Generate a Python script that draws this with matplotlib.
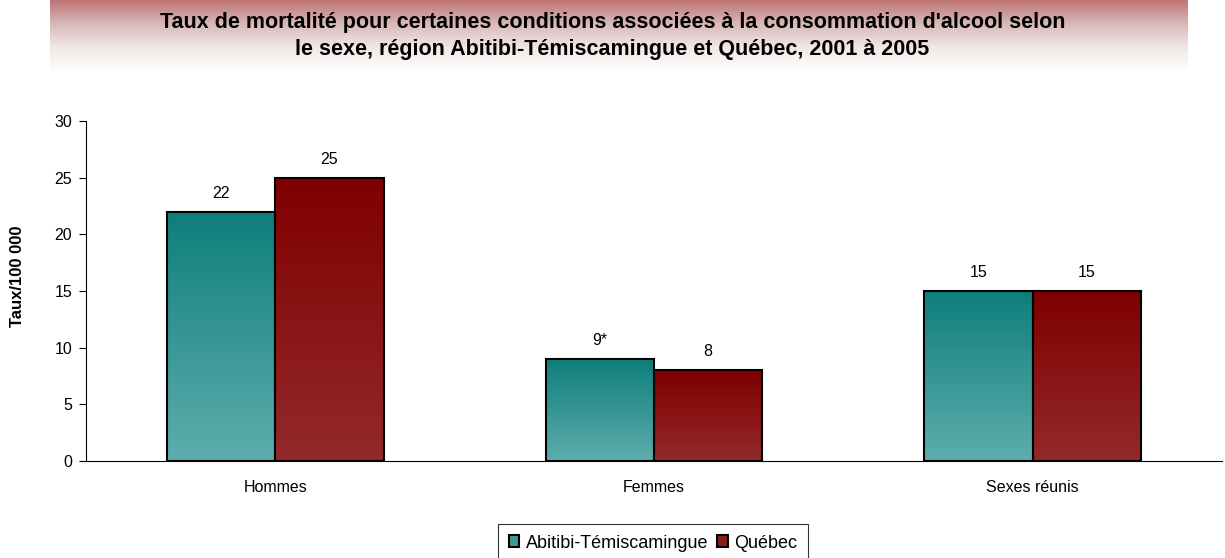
import matplotlib.pyplot as plt
import numpy as np
from matplotlib.colors import LinearSegmentedColormap
from matplotlib.patches import Patch

plt.rcParams['font.family'] = ['Liberation Sans', 'DejaVu Sans']

categories = ['Hommes', 'Femmes', 'Sexes réunis']
series_names = ['Abitibi-Témiscamingue', 'Québec']
abitibi = [22, 9, 15]
quebec = [25, 8, 15]
abitibi_labels = ['22', '9*', '15']
quebec_labels = ['25', '8', '15']

title = ("Taux de mortalité pour certaines conditions associées à la consommation d'alcool selon\n"
         "le sexe, région Abitibi-Témiscamingue et Québec, 2001 à 2005")

teal_cmap = LinearSegmentedColormap.from_list('teal', ['#5eadad', '#0e7f7c'])
red_cmap = LinearSegmentedColormap.from_list('red', ['#93292a', '#800000'])

fig = plt.figure(figsize=(12.25, 5.58), dpi=100)

# title band with vertical gradient
band = fig.add_axes([50 / 1225, 1 - 72 / 558, 1138 / 1225, 72 / 558])
grad = np.linspace(0, 1, 100).reshape(-1, 1)
band_cmap = LinearSegmentedColormap.from_list('band', ['#bf7474', '#d8baba', '#f2e8e6', '#ffffff'])
band.imshow(grad, aspect='auto', cmap=band_cmap, extent=[0, 1, 0, 1])
band.set_axis_off()
fig.text(0.5, 1 - 36 / 558, title, ha='center', va='center', fontsize=15.5,
         fontweight='bold', linespacing=1.38)

ax = fig.add_axes([86 / 1225, 1 - 461 / 558, 1136 / 1225, 340 / 558])
x = np.arange(len(categories))
w = 0.286
grad_bar = np.linspace(0, 1, 100).reshape(-1, 1)[::-1]

for vals, labels, cmap, off in [(abitibi, abitibi_labels, teal_cmap, -w / 2),
                                (quebec, quebec_labels, red_cmap, w / 2)]:
    bars = ax.bar(x + off, vals, w, facecolor='none', edgecolor='black', linewidth=1.5, zorder=3)
    for b, lab in zip(bars, labels):
        x0 = b.get_x()
        h = b.get_height()
        ax.imshow(grad_bar, extent=[x0, x0 + w, 0, h], aspect='auto', cmap=cmap,
                  origin='upper', zorder=2, vmin=0, vmax=1)
        ax.annotate(lab, (x0 + w / 2, h), xytext=(0, 8), textcoords='offset points',
                    ha='center', va='bottom', fontsize=11.5)

ax.set_xlim(-0.5, 2.5)
ax.set_ylim(0, 30)
ax.set_yticks(range(0, 31, 5))
ax.set_xticks(x)
ax.set_xticklabels(categories, fontsize=11.5)
ax.tick_params(axis='x', length=0, pad=14)
ax.tick_params(axis='y', labelsize=11.5, length=5, direction='out', pad=5)
ax.spines['top'].set_visible(False)
ax.spines['right'].set_visible(False)
ax.set_ylabel('Taux/100 000', fontsize=12, fontweight='bold')
ax.yaxis.set_label_coords(-61 / 1136, (461 - 276) / 340)

handles = [Patch(facecolor='#3a9a98', edgecolor='black', linewidth=1.5),
           Patch(facecolor='#8a1c1c', edgecolor='black', linewidth=1.5)]
leg = fig.legend(handles, series_names, loc='center', bbox_to_anchor=(653 / 1225, 1 - 543 / 558),
                 ncol=2, fontsize=13, frameon=True, fancybox=False, edgecolor='black',
                 handlelength=0.6, handleheight=0.6, handletextpad=0.35, columnspacing=0.5,
                 borderpad=0.6, borderaxespad=0)
leg.get_frame().set_linewidth(0.8)

fig.savefig('out.png', dpi=100)
